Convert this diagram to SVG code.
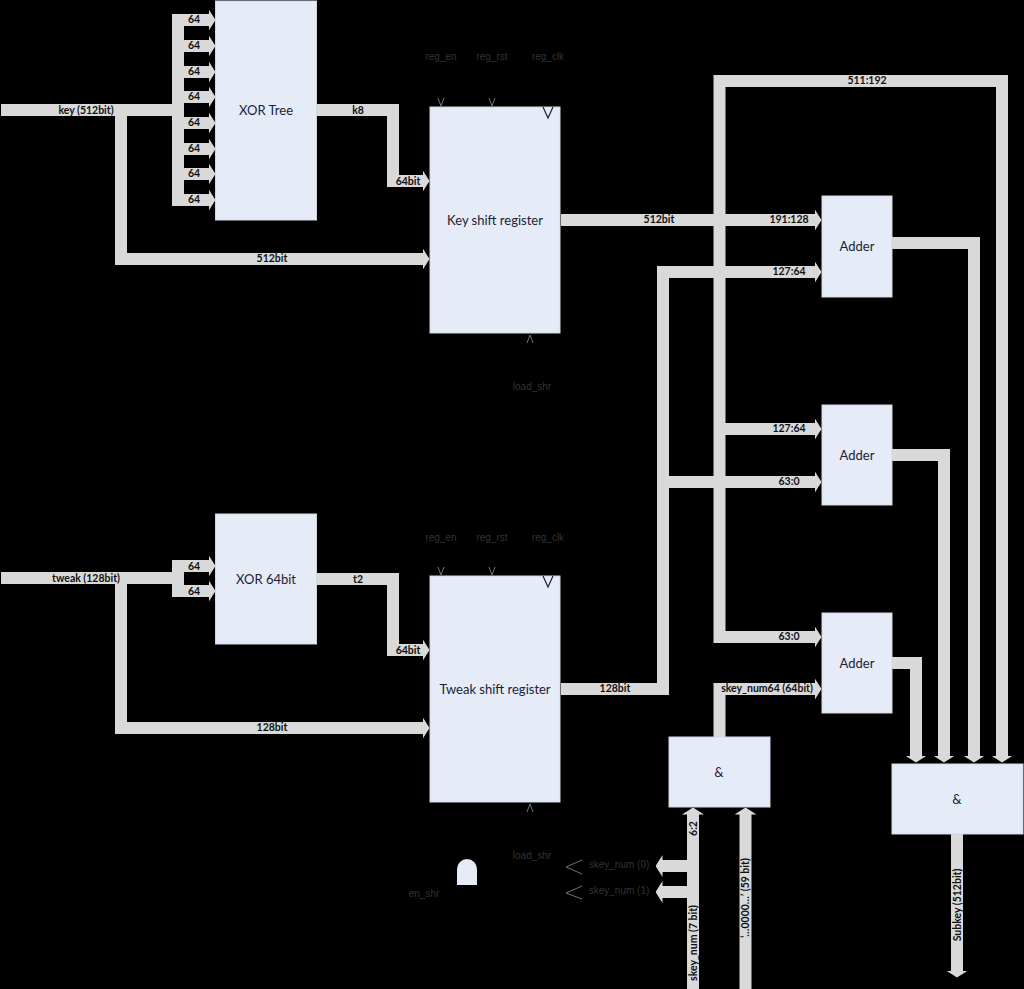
<svg xmlns="http://www.w3.org/2000/svg" width="1024" height="989" viewBox="0 0 1024 989">
<style>
.c{fill:none;stroke:#d9d9d9;stroke-width:12;stroke-linejoin:miter}
.a{marker-end:url(#h)}
.b{fill:#e6ecf7;stroke:#d2d7e3;stroke-width:1}
.t{font-family:"Lato","Liberation Sans",sans-serif;font-size:13px;fill:#1a2233;text-anchor:middle}
.l{font-family:"Lato","Liberation Sans",sans-serif;font-size:10.500px;font-weight:700;fill:#111;text-anchor:middle}
.d{font-family:"Liberation Sans",sans-serif;font-size:10px;fill:#333;text-anchor:middle}
.k{fill:none;stroke:#6f7480;stroke-width:1}
</style>
<defs>
<marker id="h" markerUnits="userSpaceOnUse" viewBox="0 0 7 22" markerWidth="7" markerHeight="22" refX="0.5" refY="11" orient="auto"><path d="M0 0L7 11L0 22Z" fill="#d9d9d9"/></marker>
</defs>
<rect width="1024" height="989" fill="#000"/>
<g id="connectors">
<path class="c" d="M1 110H178"/>
<path class="c" d="M178 14V206"/>
<path class="c a" d="M172 20H209"/><path class="c a" d="M172 46H209"/><path class="c a" d="M172 72H209"/><path class="c a" d="M172 97H209"/><path class="c a" d="M172 123H209"/><path class="c a" d="M172 149H209"/><path class="c a" d="M172 174H209"/><path class="c a" d="M172 200H209"/>
<path class="c a" d="M121 110V259H423"/>
<path class="c a" d="M317 110H393V181H423"/>
<path class="c" d="M1 578H178"/>
<path class="c" d="M178 560V597"/>
<path class="c a" d="M172 566H209"/><path class="c a" d="M172 591H209"/>
<path class="c a" d="M121 578V728H423"/>
<path class="c a" d="M317 579H393V650H423"/>
<path class="c a" d="M561 220H815"/>
<path class="c a" d="M1002 81H719.500V637H815"/>
<path class="c" d="M1002 75V757"/>
<path class="c a" d="M719.500 429H815"/>
<path class="c a" d="M561 689H663V272H815"/>
<path class="c a" d="M663 482H815"/>
<path class="c a" d="M719.500 737V689H815"/>
<path class="c a" d="M892 243H974V756"/>
<path class="c a" d="M892 455H944V756"/>
<path class="c a" d="M892 663H916V756"/>
<path class="c a" d="M1002 87V756"/>
<path class="c a" d="M693 989V814"/>
<path class="c a" d="M745.500 989V814"/>
<path class="c a" d="M693 866H662"/>
<path class="c a" d="M693 892H662"/>
<path class="c a" d="M957 834V971"/>
</g>
<g id="xor-tree"><rect class="b" x="215.500" y="1" width="101" height="219"/><text class="t" x="266" y="115">XOR Tree</text></g>
<g id="key-shift-register"><rect class="b" x="430" y="107" width="130" height="226"/><text class="t" x="495" y="224.500">Key shift register</text></g>
<g id="xor-64bit"><rect class="b" x="215.500" y="514" width="101" height="130"/><text class="t" x="266" y="584">XOR 64bit</text></g>
<g id="tweak-shift-register"><rect class="b" x="430" y="576" width="130" height="226"/><text class="t" x="495" y="693.500">Tweak shift register</text></g>
<g id="adder-1"><rect class="b" x="822" y="196" width="70" height="101"/><text class="t" x="857" y="250.500">Adder</text></g>
<g id="adder-2"><rect class="b" x="822" y="405" width="70" height="100"/><text class="t" x="857" y="459.500">Adder</text></g>
<g id="adder-3"><rect class="b" x="822" y="613" width="70" height="100"/><text class="t" x="857" y="667.500">Adder</text></g>
<g id="and-left"><rect class="b" x="669" y="737" width="101" height="70"/><text class="t" x="719" y="777">&amp;</text></g>
<g id="and-right"><rect class="b" x="892" y="764" width="131" height="70"/><text class="t" x="957" y="804">&amp;</text></g>
<g id="and-gate"><path d="M457 885V869A10 10 0 0 1 477 869V885Z" fill="#e6ecf7"/></g>
<g id="ports">
<path class="k" d="M438 98L441 106L444 98M489 98L492 106L495 98M438 567L441 575L444 567M489 567L492 575L495 567M527 343L530 335L533 343M527 812L530 804L533 812M582 860L566 867L582 874M582 886L566 893L582 899"/>
<path d="M543 107L548 118L553 107M543 576L548 587L553 576" fill="none" stroke="#1a2233" stroke-width="1.200"/>
</g>
<g id="labels">
<text class="l" x="194" y="23">64</text><text class="l" x="194" y="49">64</text><text class="l" x="194" y="75">64</text><text class="l" x="194" y="100">64</text><text class="l" x="194" y="126">64</text><text class="l" x="194" y="152">64</text><text class="l" x="194" y="177">64</text><text class="l" x="194" y="203">64</text>
<text class="l" x="86" y="113.500">key (512bit)</text>
<text class="l" x="272" y="262">512bit</text>
<text class="l" x="358" y="113.500">k8</text>
<text class="l" x="408" y="184.500">64bit</text>
<text class="l" x="194" y="569.500">64</text><text class="l" x="194" y="595">64</text>
<text class="l" x="86" y="581.500">tweak (128bit)</text>
<text class="l" x="272" y="731">128bit</text>
<text class="l" x="358" y="582.500">t2</text>
<text class="l" x="408" y="653.500">64bit</text>
<text class="l" x="659" y="223">512bit</text>
<text class="l" x="789" y="223">191:128</text>
<text class="l" x="867" y="84">511:192</text>
<text class="l" x="789" y="275">127:64</text>
<text class="l" x="789" y="432">127:64</text>
<text class="l" x="789" y="485">63:0</text>
<text class="l" x="789" y="640">63:0</text>
<text class="l" x="615" y="692">128bit</text>
<text class="l" x="767" y="692">skey_num64 (64bit)</text>
<text class="l" transform="translate(696.500 828.500) rotate(-90)">6:2</text>
<text class="l" transform="translate(696.500 943) rotate(-90)">skey_num (7 bit)</text>
<text class="l" transform="translate(749 898) rotate(-90)">‘…0000…’ (59 bit)</text>
<text class="l" transform="translate(960.500 905) rotate(-90)">Subkey (512bit)</text>
<text class="d" x="441" y="60">reg_en</text><text class="d" x="492" y="60">reg_rst</text><text class="d" x="548" y="60">reg_clk</text>
<text class="d" x="441" y="541">reg_en</text><text class="d" x="492" y="541">reg_rst</text><text class="d" x="548" y="541">reg_clk</text>
<text class="d" x="532" y="390">load_shr</text><text class="d" x="532" y="859">load_shr</text>
<text class="d" x="424" y="897">en_shr</text>
<text class="d" x="619" y="868">skey_num (0)</text><text class="d" x="619" y="894">skey_num (1)</text>
</g>
</svg>
